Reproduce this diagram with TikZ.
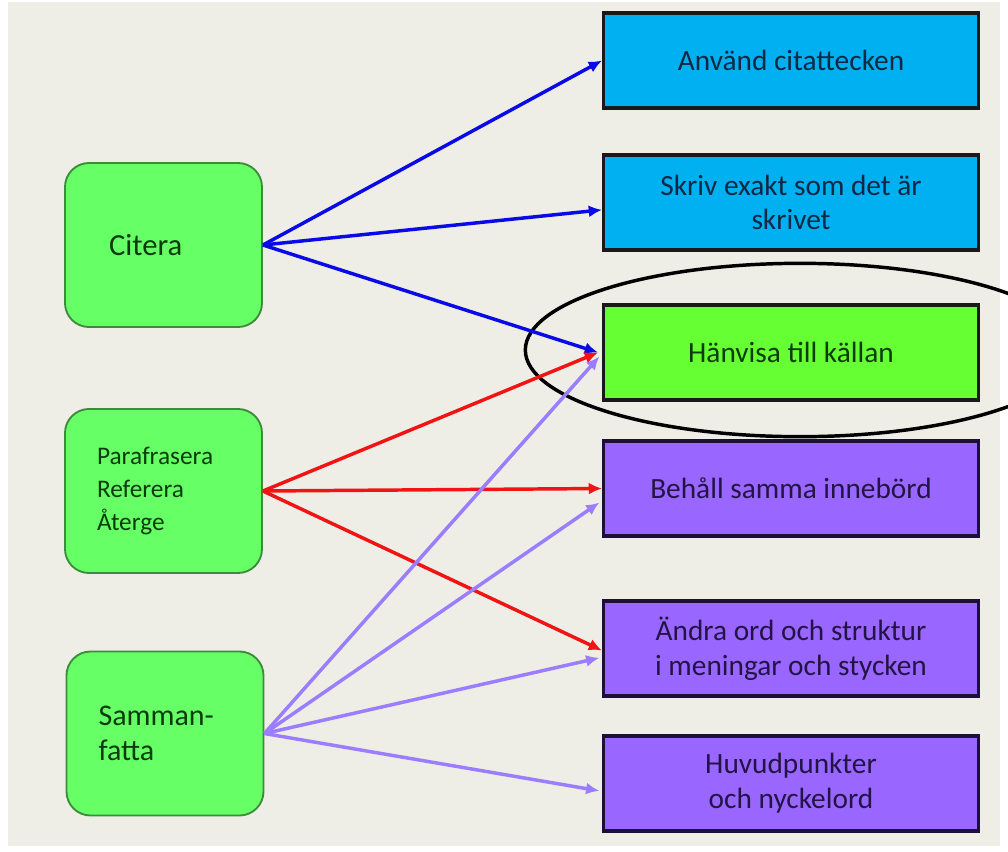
\documentclass[tikz,border=0pt]{standalone}
\usepackage{fontspec}
\setmainfont{Carlito}
\usepackage{xcolor}
\usetikzlibrary{arrows.meta}

\definecolor{bgcol}{RGB}{238,238,230}
\definecolor{leftfill}{RGB}{102,255,102}
\definecolor{leftdraw}{RGB}{60,140,60}
\definecolor{lefttext}{RGB}{10,60,10}
\definecolor{cyanfill}{RGB}{0,176,240}
\definecolor{cyantext}{RGB}{15,40,70}
\definecolor{hanvfill}{RGB}{102,255,51}
\definecolor{purpfill}{RGB}{153,102,255}
\definecolor{purptext}{RGB}{35,20,70}
\definecolor{arrblue}{RGB}{10,10,230}
\definecolor{arrred}{RGB}{240,20,20}
\definecolor{arrpurp}{RGB}{155,125,255}

\begin{document}
\begin{tikzpicture}[x=0.75pt, y=-0.75pt,
    leftbox/.style={draw=leftdraw, line width=1.4pt, fill=leftfill, rounded corners=18pt,
        minimum height=123pt, text width=99.75pt, inner xsep=24pt, align=left, text=lefttext},
    rightbox/.style={draw=black!90, line width=2.4pt, minimum width=281pt, minimum height=71.25pt,
        align=center, font=\fontsize{22}{26}\selectfont},
    citbox/.style={rightbox, fill=cyanfill, text=cyantext},
    refbox/.style={rightbox, fill=hanvfill, text=lefttext},
    ombox/.style={rightbox, fill=purpfill, draw=purptext!80!black, text=purptext},
    arr/.style={line width=2.6pt, -{Latex[length=10pt, width=9pt]}}]
    \useasboundingbox (0,0) rectangle (1008,851);
    \clip (0,0) rectangle (1008,851);

    % Background
    \fill[bgcol] (8,2) rectangle (1000,846);

    % Left boxes
    \node[leftbox, text width=81.75pt, inner xsep=33pt, font=\fontsize{23}{27}\selectfont]
        (cit) at (163.5,245) {Citera};
    \node[leftbox, font=\fontsize{19}{25}\selectfont]
        (para) at (163.5,491) {Parafrasera\\Referera\\Återge};
    \node[leftbox, font=\fontsize{22.5}{26}\selectfont]
        (sam) at (165,733.5) {Samman-\\fatta};

    % Right boxes
    \node[citbox] (anv) at (791,60.5) {Använd citattecken};
    \node[citbox] (skr) at (791,202.5) {Skriv exakt som det är\\skrivet};
    \node[refbox] (hanv) at (791,352.5) {Hänvisa till källan};
    \node[ombox] (beh) at (791,488.5) {Behåll samma innebörd};
    \node[ombox] (andra) at (791,648.5) {Ändra ord och struktur\\i meningar och stycken};
    \node[ombox] (huv) at (791,783.5) {Huvudpunkter\\och nyckelord};

    % Ring round the common step
    \draw[line width=2.6pt] (800,350) ellipse [x radius=206pt, y radius=65pt];

    % Citera
    \draw[arr, arrblue] (cit.east) -- (anv.west);
    \draw[arr, arrblue] (cit.east) -- ([yshift=-5.5pt]skr.west);
    \draw[arr, arrblue] (cit.east) -- ([xshift=-3pt]hanv.west);

    % Parafrasera
    \draw[arr, arrred] (para.east) -- ([xshift=-3pt]hanv.west);
    \draw[arr, arrred] (para.east) -- (beh.west);
    \draw[arr, arrred] (para.east) -- ([yshift=-1.5pt]andra.west);

    % Sammanfatta
    \foreach \tgt/\dy in {hanv/-3, beh/-10.5, andra/-7, huv/-5.5} {
        \draw[arr, arrpurp] (sam.east) -- ([xshift=-2pt, yshift=\dy pt]\tgt.west);
    }
\end{tikzpicture}
\end{document}
